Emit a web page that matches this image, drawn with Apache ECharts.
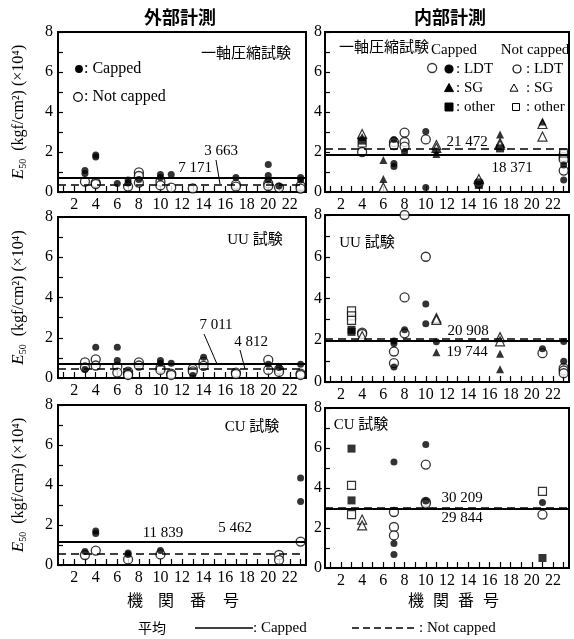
<!DOCTYPE html>
<html><head><meta charset="utf-8">
<script src="https://cdn.jsdelivr.net/npm/echarts@6/dist/echarts.min.js"></script>
<style>html,body{margin:0;padding:0;background:#fff}#c{width:574px;height:639px}</style>
</head><body><div id="c"></div><script>
// ---- Data (E50 in units of 10^4 kgf/cm2; x = institution number) ----
const xTickValues = [1,2,3,4,5,6,7,8,9,10,11,12,13,14,15,16,17,18,19,20,21,22,23];
const xLabelValues = [2,4,6,8,10,12,14,16,18,20,22];

// 外部計測 一軸圧縮試験
const extUniCapped = [[3,1.07],[3,0.93],[4,1.85],[4,1.75],[6,0.43],[7,0.6],[7,0.45],[8,0.62],[10,0.88],[10,0.72],[11,0.88],[17,0.73],[20,1.38],[20,0.83],[20,0.6],[21,0.3],[23,0.73],[23,0.6]];
const extUniNot = [[3,0.52],[4,0.47],[4,0.4],[7,0.27],[8,0.98],[8,0.8],[8,0.47],[10,0.52],[10,0.33],[11,0.22],[13,0.18],[17,0.37],[17,0.27],[20,0.43],[20,0.3],[21,0.22],[23,0.3],[23,0.17]];
const extUniMean = {capped:0.7171, not:0.3663};

// 外部計測 UU 試験
const extUUCapped = [[3,0.42],[4,1.53],[6,1.53],[6,0.87],[10,0.87],[10,0.73],[11,0.73],[13,0.12],[14,1.03],[20,0.68],[21,0.52],[23,0.68]];
const extUUNot = [[3,0.78],[3,0.53],[4,0.93],[4,0.62],[6,0.57],[6,0.27],[7,0.32],[7,0.2],[7,0.15],[8,0.78],[8,0.62],[10,0.5],[10,0.4],[11,0.22],[11,0.15],[13,0.45],[13,0.33],[14,0.8],[14,0.6],[17,0.27],[17,0.2],[20,0.9],[20,0.4],[21,0.42],[21,0.3],[23,0.22],[23,0.15]];
const extUUMean = {capped:0.7011, not:0.4812};

// 外部計測 CU 試験
const extCUCapped = [[3,0.67],[4,1.58],[4,1.7],[7,0.6],[7,0.52],[10,0.72],[23,4.35],[23,3.17]];
const extCUNot = [[3,0.5],[4,0.72],[7,0.28],[10,0.53],[21,0.5],[21,0.25],[23,1.17]];
const extCUMean = {capped:1.1839, not:0.5462};

// 内部計測 一軸圧縮試験
const intUniLDTCapped = [[7,2.63],[7,1.43],[7,1.27],[8,2.0],[10,3.02],[10,0.22],[11,2.05],[15,0.5],[23,1.35],[23,0.6]];
const intUniLDTNot = [[4,2.0],[7,2.5],[7,2.35],[8,2.97],[8,2.5],[8,2.27],[10,2.63],[10.6,6.2],[15,0.45],[23,1.88],[23,1.75],[23,1.63],[23,1.07]];
const intUniSGCapped = [[4,2.75],[6,1.6],[6,0.65],[11,1.9],[17,2.88],[21,3.52]];
const intUniSGNot = [[4,2.9],[6,0.23],[11,2.35],[11,2.2],[15,0.65],[17,2.45],[17,2.35],[21,3.4],[21,2.77]];
const intUniOtherCapped = [[4,2.57],[15,0.35],[17,2.18]];
const intUniOtherNot = [[4,2.45],[23,1.95]];
const intUniMean = {capped:1.8371, not:2.1472};

// 内部計測 UU 試験
const intUULDTCapped = [[7,1.97],[7,1.85],[7,0.72],[8,2.5],[10,3.74],[10,2.79],[11,1.93],[21,1.59],[23,1.0],[23,1.94]];
const intUULDTNot = [[4,2.37],[4,2.3],[7,1.46],[7,0.9],[8,4.05],[8,2.33],[8,8.0],[10,6.0],[21,1.38],[23,0.66],[23,0.55],[23,0.42]];
const intUUSGCapped = [[11,1.43],[17,1.35],[17,0.61]];
const intUUSGNot = [[4,2.2],[11,3.06],[11,2.98],[17,2.15],[17,1.95]];
const intUUOtherCapped = [[3,2.5],[3,2.4]];
const intUUOtherNot = [[3,3.41],[3,3.17],[3,2.95]];
const intUUMean = {capped:1.9744, not:2.0908};

// 内部計測 CU 試験
const intCULDTCapped = [[7,5.3],[7,1.22],[7,0.67],[10,6.18],[10,3.35],[21,3.27]];
const intCULDTNot = [[7,2.8],[7,2.05],[7,1.63],[10,5.17],[10,3.3],[10,3.22],[21,2.67]];
const intCUSGCapped = [];
const intCUSGNot = [[4,2.42],[4,2.13]];
const intCUOtherCapped = [[3,5.97],[3,3.38],[21,0.5]];
const intCUOtherNot = [[3,4.13],[3,2.67],[21,3.83]];
const intCUMean = {capped:2.9844, not:3.0209};

// ---- Styles ----
const SERIF = "'Liberation Serif','Noto Sans CJK JP',serif";
const CJK = "'Noto Sans CJK JP',sans-serif";
const sym = {
  fc: {symbol:'circle', symbolSize:7, itemStyle:{color:'#000'}},
  oc: {symbol:'circle', symbolSize:9, itemStyle:{color:'#fff', borderColor:'#000', borderWidth:1.3}},
  ft: {symbol:'triangle', symbolSize:8, itemStyle:{color:'#000'}},
  ot: {symbol:'triangle', symbolSize:9, itemStyle:{color:'#fff', borderColor:'#000', borderWidth:1.2}},
  fs: {symbol:'rect', symbolSize:8, itemStyle:{color:'#000'}},
  os: {symbol:'rect', symbolSize:8, itemStyle:{color:'#fff', borderColor:'#000', borderWidth:1.2}}
};

const grids = [
  {left:58, top:32, width:248, height:160},
  {left:325, top:32, width:244, height:160},
  {left:58, top:217, width:248, height:161},
  {left:325, top:215, width:244, height:167},
  {left:58, top:405, width:248, height:160},
  {left:325, top:408, width:244, height:160}
];

const panels = [
  {g:0, mean:extUniMean, sets:[['oc',extUniNot],['fc',extUniCapped]]},
  {g:1, mean:intUniMean, sets:[['oc',intUniLDTNot],['ot',intUniSGNot],['os',intUniOtherNot],['fc',intUniLDTCapped],['ft',intUniSGCapped],['fs',intUniOtherCapped]]},
  {g:2, mean:extUUMean, sets:[['oc',extUUNot],['fc',extUUCapped]]},
  {g:3, mean:intUUMean, sets:[['oc',intUULDTNot],['ot',intUUSGNot],['os',intUUOtherNot],['fc',intUULDTCapped],['ft',intUUSGCapped],['fs',intUUOtherCapped]]},
  {g:4, mean:extCUMean, sets:[['oc',extCUNot],['fc',extCUCapped]]},
  {g:5, mean:intCUMean, sets:[['oc',intCULDTNot],['ot',intCUSGNot],['os',intCUOtherNot],['fc',intCULDTCapped],['ft',intCUSGCapped],['fs',intCUOtherCapped]]}
];

const gridOpt = grids.map(g => Object.assign({show:true, borderColor:'#000', borderWidth:2, backgroundColor:'transparent'}, g));
const xAxes = grids.map((g,i) => ({
  gridIndex:i, type:'value', min:0.5, max:23.5,
  axisLine:{lineStyle:{color:'#000', width:2}},
  axisTick:{inside:true, length:6, customValues:xTickValues, lineStyle:{color:'#000', width:1.2}},
  axisLabel:{customValues:xLabelValues, color:'#000', fontSize:16, fontFamily:SERIF, margin:5},
  splitLine:{show:false}
}));
const yAxes = grids.map((g,i) => {
  const left = (i % 2 === 0);
  return {
    gridIndex:i, type:'value', min:0, max:8, interval:1,
    axisLine:{lineStyle:{color:'#000', width:2}},
    axisTick:{inside:true, length:5, lineStyle:{color:'#000', width:1.2}},
    axisLabel:{color:'#000', fontSize:16, fontFamily:SERIF, margin:left?5:3, formatter:v => (v % 2 === 0 ? String(v) : '')},
    splitLine:{show:false},
    name: left ? '{i|E}{s|50}  (kgf/cm²) (×10⁴)' : '',
    nameLocation:'middle', nameRotate:90, nameGap:30,
    nameTextStyle:{color:'#000', fontSize:16, fontFamily:SERIF,
      rich:{i:{fontStyle:'italic', fontSize:17, fontFamily:SERIF}, s:{fontSize:10, fontFamily:SERIF, padding:[8,0,0,0]}}}
  };
});

const series = [];
panels.forEach(p => {
  series.push({
    type:'scatter', xAxisIndex:p.g, yAxisIndex:p.g, data:[], z:1, silent:true,
    markLine:{symbol:'none', silent:true, label:{show:false}, animation:false,
      data:[
        {yAxis:p.mean.capped, lineStyle:{type:'solid', width:2.2, color:'#000'}},
        {yAxis:p.mean.not, lineStyle:{type:[8,5], width:1.6, color:'#000'}}
      ]}
  });
  p.sets.forEach(([k, d]) => {
    series.push(Object.assign({type:'scatter', xAxisIndex:p.g, yAxisIndex:p.g, data:d, z:3, animation:false, clip:false}, sym[k]));
  });
});

// ---- Annotations / texts ----
function txt(text, x, y, opt) {
  opt = opt || {};
  return {type:'text', z:10, style:Object.assign({text, x, y, fill:'#000', fontSize:15, fontFamily:SERIF, align:'center', verticalAlign:'middle'}, opt)};
}
function line(x1,y1,x2,y2,w,dash) {
  return {type:'line', z:10, shape:{x1,y1,x2,y2}, style:{stroke:'#000', lineWidth:w||1, lineDash:dash||null}};
}
function circ(x,y,r,filled) {
  return {type:'circle', z:10, shape:{cx:x, cy:y, r}, style:{fill:filled?'#000':'#fff', stroke:'#000', lineWidth:1.2}};
}
function tri(x,y,s,filled) {
  return {type:'polygon', z:10, shape:{points:[[x,y-s],[x+s,y+s*0.8],[x-s,y+s*0.8]]}, style:{fill:filled?'#000':'#fff', stroke:'#000', lineWidth:1}};
}
function sq(x,y,s,filled) {
  return {type:'rect', z:10, shape:{x:x-s, y:y-s, width:2*s, height:2*s}, style:{fill:filled?'#000':'#fff', stroke:'#000', lineWidth:1}};
}
const graphic = [
  txt('外部計測', 180, 17, {fontSize:18, fontWeight:'bold', fontFamily:CJK}),
  txt('内部計測', 450, 17, {fontSize:18, fontWeight:'bold', fontFamily:CJK}),
  // panel labels
  txt('一軸圧縮試験', 246, 52, {fontFamily:CJK, fontSize:15}),
  txt('一軸圧縮試験', 384, 46, {fontFamily:CJK, fontSize:15}),
  txt('UU 試験', 255, 240, {fontSize:15}),
  txt('UU 試験', 367, 243, {fontSize:15}),
  txt('CU 試験', 252, 427, {fontSize:15}),
  txt('CU 試験', 361, 425, {fontSize:15}),
  // left legend
  circ(79, 69, 3.3, true), txt(': Capped', 84, 69, {align:'left', fontSize:16}),
  circ(78, 97, 4.3, false), txt(': Not capped', 84, 97, {align:'left', fontSize:16}),
  // right legend
  txt('Capped', 454, 50, {fontSize:15}),
  txt('Not capped', 535, 50, {fontSize:15}),
  circ(449, 69, 4, true), txt(': LDT', 456, 69, {align:'left', fontSize:15}),
  tri(449, 88, 4.5, true), txt(': SG', 456, 88, {align:'left', fontSize:15}),
  sq(449, 107, 4, true), txt(': other', 456, 107, {align:'left', fontSize:15}),
  circ(517, 69, 4, false), txt(': LDT', 526, 69, {align:'left', fontSize:15}),
  tri(514, 88, 4, false), txt(': SG', 526, 88, {align:'left', fontSize:15}),
  sq(516, 107, 3.5, false), txt(': other', 526, 107, {align:'left', fontSize:15}),
  // mean value annotations
  txt('3 663', 221, 151), line(216,160,220,184,1),
  txt('7 171', 195, 168),
  txt('7 011', 216, 325), line(204,334,217,364,1),
  txt('4 812', 251, 342), line(240,350,245,369,1),
  txt('11 839', 163, 533),
  txt('5 462', 235, 528),
  txt('21 472', 467, 142),
  txt('18 371', 512, 168),
  txt('20 908', 468, 331),
  txt('19 744', 467, 352),
  txt('30 209', 462, 498),
  txt('29 844', 462, 518),
  // x axis titles
  txt('機', 135, 600, {fontFamily:CJK, fontSize:16}), txt('関', 166, 600, {fontFamily:CJK, fontSize:16}),
  txt('番', 198, 600, {fontFamily:CJK, fontSize:16}), txt('号', 231, 600, {fontFamily:CJK, fontSize:16}),
  txt('機', 416, 600, {fontFamily:CJK, fontSize:16}), txt('関', 441, 600, {fontFamily:CJK, fontSize:16}),
  txt('番', 466, 600, {fontFamily:CJK, fontSize:16}), txt('号', 491, 600, {fontFamily:CJK, fontSize:16}),
  // bottom legend
  txt('平均', 152, 628, {fontFamily:CJK, fontSize:14}),
  line(195, 628, 253, 628, 1.5), txt(': Capped', 253, 628, {align:'left', fontSize:15}),
  line(352, 628, 418, 628, 1.5, [7,4]), txt(': Not capped', 419, 628, {align:'left', fontSize:15})
];

const chart = echarts.init(document.getElementById('c'), null, {renderer:'canvas'});
chart.setOption({
  animation:false,
  backgroundColor:'#fff',
  grid:gridOpt, xAxis:xAxes, yAxis:yAxes, series, graphic
});
</script></body></html>
